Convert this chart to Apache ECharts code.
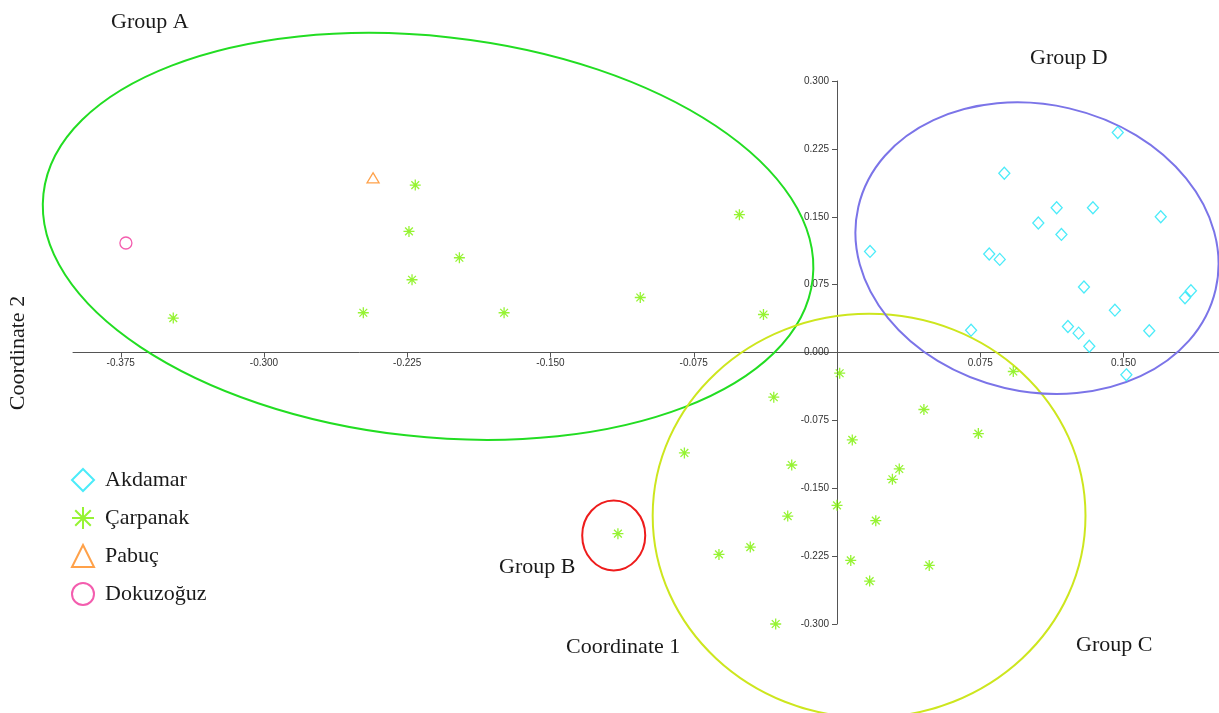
<!DOCTYPE html>
<html>
<head>
<meta charset="utf-8">
<script src="https://cdn.jsdelivr.net/npm/echarts@6/dist/echarts.min.js"></script>
<style>
html,body{margin:0;padding:0;background:#fff;}
#chart{width:1219px;height:713px;}
</style>
</head>
<body>
<div id="chart"></div>
<script>
// ---- data ----
const xTickValues = [-0.375, -0.3, -0.225, -0.15, -0.075, 0.075, 0.15];

const akdamarX = [0.147, 0.0876, 0.115, 0.134, 0.1695, 0.1054, 0.1175, 0.0173, 0.0797, 0.0852, 0.1293, 0.1853, 0.1822, 0.1455, 0.1209, 0.0702, 0.1265, 0.1635, 0.1321, 0.1515];
const akdamarY = [0.243, 0.198, 0.160, 0.160, 0.150, 0.143, 0.1305, 0.1117, 0.1088, 0.1029, 0.0723, 0.0682, 0.0605, 0.0468, 0.0288, 0.0247, 0.0214, 0.024, 0.007, -0.0247];

const carpanakX = [-0.2208, -0.2241, -0.1977, -0.2225, -0.248, -0.3475, -0.0511, -0.103, -0.1743, -0.0385, 0.0014, -0.0331, 0.0455, 0.074, 0.0923, 0.008, -0.0799, -0.0237, 0.0326, 0.029, 0.0, -0.0258, 0.0203, -0.1147, -0.0454, -0.0618, 0.0072, 0.0483, 0.0171, -0.0321];
const carpanakY = [0.185, 0.1338, 0.1047, 0.0804, 0.0439, 0.038, 0.1523, 0.0608, 0.0439, 0.042, -0.0229, -0.0494, -0.063, -0.0896, -0.021, -0.0966, -0.111, -0.1243, -0.1287, -0.1401, -0.1689, -0.1807, -0.1858, -0.2002, -0.215, -0.2231, -0.2297, -0.2353, -0.2526, -0.300];

const pabucX = [-0.2429];
const pabucY = [0.193];

const dokuzoguzX = [-0.3723];
const dokuzoguzY = [0.121];

// group ellipses (data units; tilt in degrees, clockwise)
const groupNames = ['Group A', 'Group B', 'Group C', 'Group D'];
const groupCX = [-0.2141, -0.1169, 0.0168, 0.1047];
const groupCY = [0.1283, -0.2022, -0.1803, 0.1153];
const groupRX = [0.2026, 0.0165, 0.1133, 0.0960];
const groupRY = [0.2212, 0.0386, 0.2231, 0.1585];
const groupTilt = [6.3, 0, 0, 13];

// ---- styling ----
const C_AK = '#1ee6f8';
const C_CA = '#7cf000';
const C_PA = '#ff8a1c';
const C_DO = '#f0359a';
const groupColors = ['#22dd22', '#ee1c1c', '#cde61e', '#7b74e8'];
const ASTERISK = 'path://M10,0L10,20M0,10L20,10M2.93,2.93L17.07,17.07M2.93,17.07L17.07,2.93';
const SERIF = '"Liberation Serif", "DejaVu Serif", serif';
const SANS = '"Liberation Sans", Arial, sans-serif';

function zip(xs, ys) { return xs.map((x, i) => [x, ys[i]]); }
const groupData = groupNames.map((n, i) => [groupCX[i], groupCY[i], groupRX[i], groupRY[i], groupTilt[i]]);

const GRID = {left: 73, right: 0, top: 81, bottom: 89, containLabel: false};

const chart = echarts.init(document.getElementById('chart'), null, {renderer: 'canvas'});
chart.setOption({
  animation: false,
  backgroundColor: '#ffffff',
  grid: GRID,
  xAxis: {
    type: 'value', min: -0.4, max: 0.2, position: 'bottom', offset: 0,
    axisLine: {onZero: false, lineStyle: {color: '#555', width: 1}},
    axisTick: {show: true, customValues: xTickValues, length: 5, lineStyle: {color: '#555'}},
    axisLabel: {customValues: xTickValues, formatter: v => v.toFixed(3), fontSize: 10, color: '#333', fontFamily: SANS, margin: 6},
    splitLine: {show: false}
  },
  yAxis: {
    type: 'value', min: -0.3, max: 0.3, interval: 0.075, position: 'left', offset: 0,
    axisLine: {onZero: false, lineStyle: {color: '#555', width: 1}},
    axisTick: {show: true, length: 5, lineStyle: {color: '#555'}},
    axisLabel: {formatter: v => v.toFixed(3), fontSize: 10, color: '#333', fontFamily: SANS, margin: 8},
    splitLine: {show: false}
  },
  legend: {
    orient: 'vertical', left: 71, top: 468, itemGap: 14, padding: 0,
    itemWidth: 22, itemHeight: 22,
    itemStyle: {borderWidth: 2},
    textStyle: {fontSize: 22, fontFamily: SERIF, color: '#1a1a1a', padding: [0, 0, 0, 6]},
    data: ['Akdamar', 'Çarpanak', 'Pabuç', 'Dokuzoğuz']
  },
  graphic: [
    {type: 'text', x: 111, y: 22, style: {text: 'Group A', font: '22px ' + SERIF, fill: '#1a1a1a', verticalAlign: 'middle'}},
    {type: 'text', x: 1030, y: 58, style: {text: 'Group D', font: '22px ' + SERIF, fill: '#1a1a1a', verticalAlign: 'middle'}},
    {type: 'text', x: 499, y: 567, style: {text: 'Group B', font: '22px ' + SERIF, fill: '#1a1a1a', verticalAlign: 'middle'}},
    {type: 'text', x: 566, y: 647, style: {text: 'Coordinate 1', font: '22px ' + SERIF, fill: '#1a1a1a', verticalAlign: 'middle'}},
    {type: 'text', x: 1076, y: 645, style: {text: 'Group C', font: '22px ' + SERIF, fill: '#1a1a1a', verticalAlign: 'middle'}},
    {type: 'text', x: 18, y: 353, rotation: Math.PI / 2, style: {text: 'Coordinate 2', font: '22px ' + SERIF, fill: '#1a1a1a', verticalAlign: 'middle', align: 'center'}}
  ],
  series: [
    {
      name: 'groups', type: 'custom', silent: true, clip: false, z: 1,
      data: groupData,
      renderItem: function (params, api) {
        const c = api.coord([api.value(0), api.value(1)]);
        const s = api.size([api.value(2), api.value(3)]);
        return {
          type: 'ellipse', x: c[0], y: c[1],
          rotation: -api.value(4) * Math.PI / 180,
          shape: {cx: 0, cy: 0, rx: s[0], ry: s[1]},
          style: {fill: 'none', stroke: groupColors[params.dataIndex], lineWidth: 2}
        };
      }
    },
    {
      name: 'Akdamar', type: 'scatter', z: 3, data: zip(akdamarX, akdamarY),
      symbol: 'diamond', symbolSize: [11, 12],
      itemStyle: {color: 'rgba(255,255,255,0)', borderColor: C_AK, borderWidth: 1.3}
    },
    {
      name: 'Çarpanak', type: 'scatter', z: 3, data: zip(carpanakX, carpanakY),
      symbol: ASTERISK, symbolSize: 11,
      itemStyle: {color: 'rgba(255,255,255,0)', borderColor: C_CA, borderWidth: 1.3}
    },
    {
      name: 'Pabuç', type: 'scatter', z: 3, data: zip(pabucX, pabucY),
      symbol: 'triangle', symbolSize: [12, 10],
      itemStyle: {color: 'rgba(255,255,255,0)', borderColor: C_PA, borderWidth: 1.3}
    },
    {
      name: 'Dokuzoğuz', type: 'scatter', z: 3, data: zip(dokuzoguzX, dokuzoguzY),
      symbol: 'circle', symbolSize: 12,
      itemStyle: {color: 'rgba(255,255,255,0)', borderColor: C_DO, borderWidth: 1.3}
    }
  ]
});

// move both axes (line, ticks and labels) so that they cross at the origin
const origin = chart.convertToPixel({gridIndex: 0}, [0, 0]);
const chartH = chart.getHeight();
chart.setOption({
  xAxis: {offset: (origin[1] - (chartH - GRID.bottom)) },
  yAxis: {offset: (GRID.left - origin[0])}
});
</script>
</body>
</html>
